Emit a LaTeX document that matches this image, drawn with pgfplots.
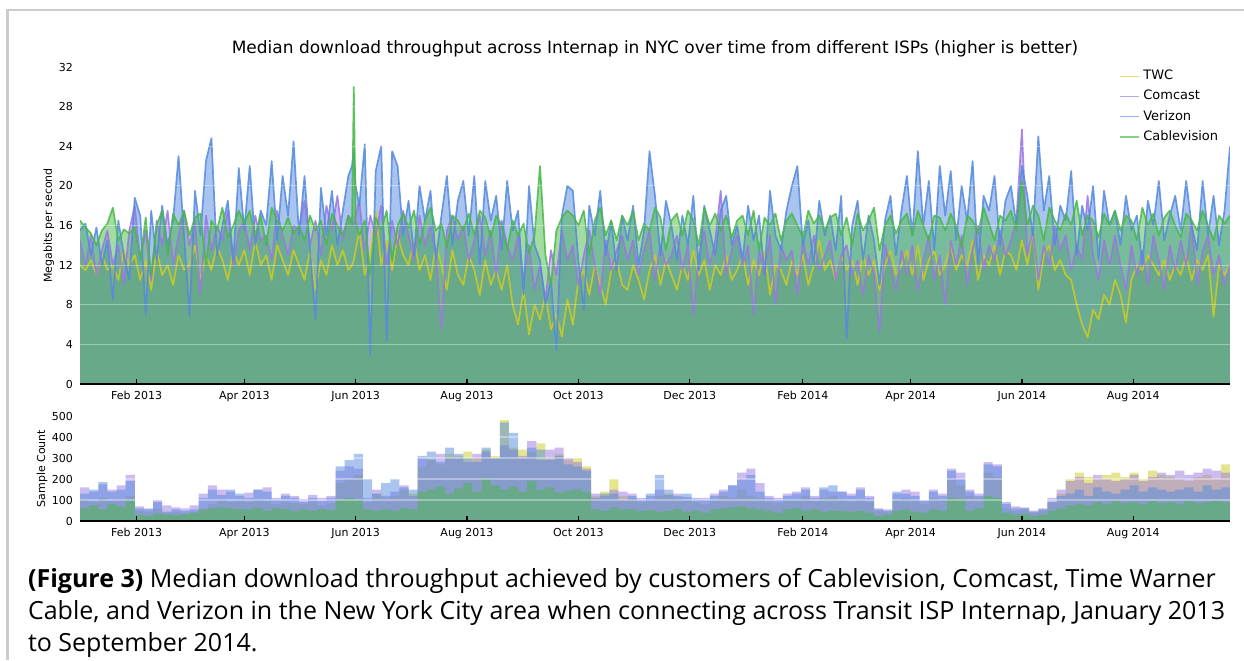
\documentclass[border=0pt]{standalone}
\usepackage{pgfplots}
\usepackage{pgfplotstable}
\pgfplotsset{compat=1.18}
\usepackage{fontspec}
\setmainfont{DejaVu Sans}
\newfontfamily\capfont{Open Sans}

\definecolor{twc}{RGB}{204,204,34}
\definecolor{comcast}{RGB}{153,120,226}
\definecolor{verizon}{RGB}{84,138,222}
\definecolor{cable}{RGB}{72,184,72}
\definecolor{framegray}{RGB}{204,204,204}

\pgfplotstableread{
day twc comcast verizon cable
0 12.0 14.5 15.5 16.5
3 11.5 12.0 16.2 15.8
6 12.5 15.0 13.0 15.2
9 11.0 11.0 15.8 14.0
12 13.0 13.5 12.0 15.5
15 11.5 15.5 14.5 16.2
18 12.0 12.0 8.5 17.8
21 10.5 14.0 16.5 14.5
24 13.5 10.0 13.0 15.6
27 12.0 15.5 10.5 15.2
30 13.0 18.0 18.8 15.8
33 10.5 12.5 17.0 12.5
36 12.5 15.5 7.0 16.8
39 9.5 10.5 17.5 11.0
42 13.5 16.5 12.5 16.0
45 11.0 14.0 18.0 17.5
48 12.0 17.5 14.0 13.0
51 10.0 12.0 16.5 17.2
54 13.0 15.0 23.0 16.0
57 11.5 17.5 15.0 17.5
60 12.0 14.0 6.8 15.0
63 14.0 16.5 19.5 16.8
66 10.5 9.0 15.0 17.2
69 13.0 17.0 22.5 12.0
72 11.5 13.5 24.8 16.5
75 14.0 16.0 13.0 15.5
78 12.5 14.5 16.0 17.8
81 10.5 17.5 18.5 14.8
84 13.5 12.0 12.5 16.0
87 12.0 15.5 21.8 17.5
90 13.5 16.5 15.5 16.2
93 11.0 13.5 22.0 17.5
96 14.5 17.0 14.0 15.0
99 12.0 14.5 17.5 17.0
102 13.0 15.0 16.0 14.0
105 10.5 12.5 22.5 17.8
108 14.0 17.5 14.5 16.5
111 12.5 15.0 21.0 15.5
114 11.0 13.0 17.0 16.8
117 13.5 16.0 24.5 15.2
120 12.0 15.5 15.0 16.0
123 10.5 18.5 21.0 14.5
126 13.5 14.0 13.5 17.0
129 9.5 16.5 6.5 15.5
132 12.5 13.0 19.8 16.5
135 11.0 18.0 15.0 14.0
138 14.0 15.5 19.5 17.2
141 12.0 19.0 14.0 16.0
144 13.5 14.5 17.5 15.0
147 11.5 17.0 21.0 17.0
149 12.0 16.5 22.0 16.0
150 12.5 16.0 23.5 30.0
151 13.5 17.0 20.0 16.5
153 15.5 18.5 18.0 15.0
156 11.0 13.5 24.2 16.5
159 13.0 17.0 2.9 11.0
162 17.5 15.0 21.5 16.8
165 12.0 18.0 24.0 15.5
168 14.5 12.0 4.3 17.5
171 11.5 16.5 23.5 12.5
174 15.0 14.0 22.0 16.0
177 13.0 17.5 15.0 17.2
180 12.0 15.0 18.5 15.8
183 14.5 12.5 13.0 17.5
186 11.5 17.0 20.0 14.0
189 13.0 14.0 16.5 16.5
192 10.5 16.0 19.5 17.8
195 14.0 13.0 12.5 15.5
198 12.0 5.5 17.0 16.2
201 9.5 15.5 21.0 13.8
204 13.5 17.0 14.0 17.0
207 11.0 14.5 18.5 16.5
210 10.0 16.0 20.5 15.5
213 13.0 12.5 15.0 17.2
216 11.5 14.5 21.0 15.0
219 9.0 17.0 12.0 17.5
222 12.5 13.0 20.5 16.8
225 10.0 15.5 16.5 14.8
228 11.5 11.0 19.0 17.0
231 9.5 16.5 13.5 16.0
234 12.0 14.0 20.5 13.5
237 8.0 12.5 15.5 16.5
240 6.0 15.0 17.5 15.0
243 9.5 10.5 9.0 16.2
246 5.0 14.0 20.0 13.2
249 8.0 9.5 14.0 15.0
252 6.5 12.0 12.5 22.0
255 9.0 8.5 8.0 13.0
258 5.5 13.5 10.5 10.0
261 7.0 11.0 3.4 15.5
264 4.8 15.5 17.0 16.8
267 8.5 12.5 20.0 17.5
270 6.0 14.0 19.5 17.0
273 10.5 10.0 12.5 16.0
276 11.5 13.0 7.5 17.5
279 9.0 15.5 18.0 13.0
282 12.0 12.0 15.0 16.5
285 10.0 9.0 19.5 17.8
288 8.0 14.5 13.0 15.0
291 11.5 11.5 16.5 16.5
294 12.5 13.5 11.5 14.5
297 10.0 15.0 17.0 17.0
300 9.5 12.5 14.5 16.0
303 12.0 14.5 18.0 17.5
306 10.5 11.0 12.0 14.5
309 8.5 13.5 15.5 16.2
312 11.5 15.5 23.5 15.5
315 13.0 10.5 19.0 17.8
318 10.0 14.0 13.0 16.8
321 12.5 12.0 18.5 13.5
324 11.0 13.0 16.0 16.5
327 9.5 15.0 12.5 17.2
330 12.0 11.5 17.0 15.0
333 10.5 14.0 14.0 17.5
336 13.5 7.0 19.0 16.5
339 11.0 13.0 11.5 14.0
342 12.5 15.5 18.0 17.8
345 9.5 12.0 15.5 16.0
348 12.0 14.5 13.0 17.2
351 11.0 19.5 17.5 15.5
354 13.0 11.0 19.0 17.0
357 10.5 13.5 14.0 14.8
360 11.5 15.0 16.0 16.5
363 13.0 12.0 12.5 17.0
366 10.0 14.0 18.0 15.0
369 12.5 7.0 14.5 17.5
372 11.0 13.5 17.0 13.5
375 13.5 11.0 11.0 16.8
378 9.0 15.0 19.5 16.0
381 12.0 8.0 15.0 17.2
384 11.5 14.0 13.5 14.5
387 10.0 12.5 17.5 16.5
390 12.5 13.5 20.0 17.2
393 11.0 9.0 22.0 16.0
396 13.0 14.5 14.0 14.8
399 10.0 12.0 16.5 17.5
402 12.0 15.0 12.0 16.2
405 14.5 11.5 18.5 17.0
408 11.5 13.0 15.0 15.5
411 12.5 14.5 17.0 16.8
414 10.5 10.5 13.5 17.2
417 13.0 13.0 19.0 15.0
420 11.5 14.0 4.6 16.8
423 12.5 11.0 16.0 14.0
426 10.0 12.5 18.5 17.2
429 13.0 9.0 12.5 15.5
432 11.0 13.0 17.0 16.5
435 12.5 11.0 14.5 17.8
438 9.5 5.3 10.0 13.5
441 12.0 14.0 16.5 16.0
444 13.5 12.0 19.0 17.0
447 11.0 9.5 13.0 15.2
450 12.0 13.5 17.5 16.5
453 13.5 11.0 21.0 17.2
456 11.0 14.0 15.0 15.0
459 14.0 9.5 23.5 17.5
462 10.5 12.5 16.0 16.0
465 12.5 15.0 20.5 14.5
468 13.5 10.5 13.5 17.0
471 11.0 13.0 22.0 16.8
474 12.0 8.0 17.0 15.5
477 14.0 14.5 21.5 17.2
480 11.5 12.0 14.5 16.0
483 13.0 15.0 20.0 13.8
486 12.0 10.0 16.5 17.0
489 14.5 13.5 22.5 16.5
492 10.5 16.0 12.0 15.2
495 13.0 11.5 19.0 17.8
498 12.0 14.0 17.5 16.2
501 14.0 12.5 21.0 14.5
504 11.0 15.5 14.0 17.0
507 13.5 13.0 18.5 16.5
510 13.0 14.5 20.0 17.5
513 11.5 16.5 16.0 15.5
516 14.5 25.7 22.0 20.5
519 12.0 13.0 19.0 16.0
522 15.5 15.5 15.0 18.0
525 9.5 10.5 25.0 17.0
528 13.0 14.0 17.5 14.5
531 14.0 12.0 21.0 17.8
534 11.5 16.0 14.0 16.5
537 12.5 13.5 18.0 15.5
540 11.0 15.0 16.5 17.2
543 10.5 11.5 21.5 16.0
546 8.0 14.0 13.0 18.5
549 6.0 12.5 18.0 15.0
552 4.7 19.0 15.5 17.0
555 7.5 13.0 20.0 16.5
558 6.5 10.5 12.5 14.8
561 9.0 14.5 19.5 17.2
564 8.0 12.0 16.0 16.0
567 10.5 15.0 17.5 17.5
570 9.0 12.0 14.0 15.5
573 6.2 9.5 19.0 17.0
576 10.5 14.0 15.5 16.5
579 12.0 11.0 17.0 14.5
582 11.5 13.5 12.0 17.8
585 13.0 10.0 18.5 16.0
588 12.0 15.0 16.0 17.2
591 11.0 12.5 20.5 15.0
594 12.5 9.5 14.5 16.8
597 10.5 14.0 17.0 17.5
600 12.0 11.5 19.0 16.0
603 11.0 14.5 15.5 14.8
606 13.0 12.0 20.5 17.2
609 10.5 16.5 16.0 16.5
612 12.5 10.0 13.5 15.5
615 11.5 13.5 20.5 17.5
618 13.0 15.0 15.0 16.0
621 6.8 11.0 19.0 14.5
624 12.0 13.0 14.0 17.0
627 11.0 10.0 17.5 16.2
630 12.0 12.0 24.0 17.0
}\topdata

\pgfplotstableread{
day twc comcast verizon cable
0 100 160 130 60
5 90 140 150 75
10 110 175 185 55
15 95 150 140 80
20 100 170 150 70
25 120 220 190 95
30 50 70 60 30
35 45 60 55 25
40 60 100 90 35
45 40 75 45 30
50 45 65 55 28
55 40 60 50 32
60 45 75 55 40
65 60 130 110 55
70 80 170 150 60
75 100 150 125 65
80 90 140 150 60
85 95 120 130 58
90 90 135 110 55
95 100 150 150 62
100 95 160 140 50
105 80 110 100 60
110 90 130 120 55
115 85 120 110 48
120 80 105 90 55
125 90 125 110 50
130 75 110 95 58
135 85 120 110 52
140 180 240 260 100
145 200 260 290 110
150 220 250 320 100
155 90 110 200 55
160 130 150 130 50
165 110 120 180 55
170 120 140 200 50
175 150 170 160 60
180 130 120 150 55
185 260 300 310 140
190 300 290 330 150
195 270 320 280 165
200 320 300 350 130
205 310 300 320 155
210 330 280 300 180
215 300 320 280 140
220 340 330 350 200
225 310 300 300 170
230 480 360 470 150
235 350 340 420 165
240 340 310 300 140
245 330 380 350 190
250 370 290 340 150
255 300 340 290 160
260 320 350 310 135
265 290 300 270 145
270 300 280 260 150
275 260 250 240 140
280 120 130 110 55
285 140 120 130 50
290 200 150 130 65
295 120 140 100 55
300 110 130 120 55
305 90 110 100 48
310 100 120 130 52
315 120 150 220 45
320 130 125 150 50
325 110 130 120 58
330 100 115 130 45
335 90 100 110 50
340 80 110 100 40
345 100 130 120 55
350 120 150 140 60
355 110 170 170 65
360 150 230 200 70
365 120 250 220 60
370 110 180 140 55
375 90 120 110 50
380 85 110 100 40
385 100 130 120 55
390 100 140 130 60
395 120 160 150 50
400 95 120 110 55
405 110 150 160 45
410 120 140 170 50
415 100 140 140 48
420 90 130 120 45
425 100 160 150 50
430 90 120 110 40
435 50 60 55 25
440 45 55 50 30
445 100 130 140 50
450 110 150 130 55
455 100 140 120 45
460 80 100 95 40
465 110 150 140 55
470 100 130 120 50
475 200 250 240 110
480 170 230 200 105
485 120 150 140 50
490 110 130 120 60
495 230 280 270 120
500 210 270 260 110
505 60 90 80 40
510 50 70 60 30
515 55 65 60 35
520 40 50 45 25
525 50 60 55 30
530 90 110 90 50
535 130 150 120 60
540 200 190 130 75
545 230 210 150 80
550 210 180 120 75
555 200 220 160 90
560 220 200 140 80
565 230 190 130 95
570 210 200 150 85
575 230 220 170 90
580 200 190 140 80
585 240 210 160 95
590 220 230 150 85
595 210 220 140 90
600 200 240 150 80
605 190 220 160 95
610 210 230 140 85
615 220 250 170 90
620 200 240 150 95
625 270 230 160 90
630 200 220 150 90
}\countdata

\pgfplotsset{
  common/.style={
    scale only axis,
    width=575pt,
    xmin=0, xmax=630,
    axis lines*=left,
    y axis line style={draw=none},
    x axis line style={black, line width=0.7pt},
    tick align=inside,
    xtick={31,90,151,212,273,334,396,455,516,577},
    xticklabels={Feb 2013,Apr 2013,Jun 2013,Aug 2013,Oct 2013,Dec 2013,Feb 2014,Apr 2014,Jun 2014,Aug 2014},
    xtick style={black, line width=0.6pt},
    major tick length=2.5pt,
    ytick style={draw=none},
    ymajorgrids,
    major grid style={white, opacity=0.35, line width=0.6pt},
    axis on top,
    tick label style={font=\fontsize{5.5}{6.5}\selectfont},
    label style={font=\fontsize{5.5}{6.5}\selectfont},
    /pgf/number format/assume math mode=true,
    scaled y ticks=false,
    clip=true,
  },
}

\begin{document}
\begin{tikzpicture}
\path[use as bounding box] (0,0) rectangle (622pt,330pt);
\draw[framegray, line width=1.25pt] (3.75pt,0) -- (3.75pt,325pt) -- (622pt,325pt);

\node[anchor=base, font=\fontsize{8.5}{10}\selectfont] at (327.5pt,303.2pt)
  {Median download throughput across Internap in NYC over time from different ISPs (higher is better)};

\begin{axis}[common,
  at={(40pt,138pt)}, anchor=south west,
  height=158.5pt,
  ymin=0, ymax=32,
  ytick={0,4,...,32},
  ylabel={Megabits per second},
  ylabel style={at={(axis description cs:-0.027,0.5)}, anchor=center},
  legend style={at={(0.9935,1.004)}, anchor=north east, draw=none, fill=none,
    font=\fontsize{6.5}{7.5}\selectfont, row sep=-0.3pt, inner sep=0pt,
    cells={anchor=west}},
  legend image code/.code={\draw[#1] (0pt,0pt) -- (9.5pt,0pt);},
]
\addlegendimage{twc, line width=0.8pt, opacity=0.65}
\addlegendentry{TWC}
\addlegendimage{comcast, line width=0.8pt, opacity=0.65}
\addlegendentry{Comcast}
\addlegendimage{verizon, line width=0.8pt, opacity=0.65}
\addlegendentry{Verizon}
\addlegendimage{cable, line width=0.8pt, opacity=0.65}
\addlegendentry{Cablevision}
\addplot[fill=twc, fill opacity=0.5, draw=none, forget plot] table[x=day,y=twc]{\topdata} \closedcycle;
\addplot[fill=comcast, fill opacity=0.5, draw=none, forget plot] table[x=day,y=comcast]{\topdata} \closedcycle;
\addplot[fill=verizon, fill opacity=0.5, draw=none, forget plot] table[x=day,y=verizon]{\topdata} \closedcycle;
\addplot[fill=cable, fill opacity=0.5, draw=none, forget plot] table[x=day,y=cable]{\topdata} \closedcycle;
\addplot[twc, line width=0.85pt, draw opacity=0.85, line join=round, forget plot] table[x=day,y=twc]{\topdata};
\addplot[comcast, line width=0.85pt, draw opacity=0.85, line join=round, forget plot] table[x=day,y=comcast]{\topdata};
\addplot[verizon, line width=0.85pt, draw opacity=0.85, line join=round, forget plot] table[x=day,y=verizon]{\topdata};
\addplot[cable, line width=0.85pt, draw opacity=0.85, line join=round, forget plot] table[x=day,y=cable]{\topdata};
\end{axis}

\begin{axis}[common,
  at={(40pt,69.5pt)}, anchor=south west,
  height=52.5pt,
  ymin=0, ymax=500,
  ytick={0,100,...,500},
  ylabel={Sample Count},
  ylabel style={at={(axis description cs:-0.033,0.5)}, anchor=center},
]
\addplot[const plot mark left, fill=twc, fill opacity=0.5, draw=none] table[x=day,y=twc]{\countdata} \closedcycle;
\addplot[const plot mark left, fill=comcast, fill opacity=0.5, draw=none] table[x=day,y=comcast]{\countdata} \closedcycle;
\addplot[const plot mark left, fill=verizon, fill opacity=0.5, draw=none] table[x=day,y=verizon]{\countdata} \closedcycle;
\addplot[const plot mark left, fill=cable, fill opacity=0.5, draw=none] table[x=day,y=cable]{\countdata} \closedcycle;
\end{axis}

\node[anchor=base west, font=\capfont\fontsize{12.5}{14}\selectfont] at (10.5pt,36.5pt)
  {\textbf{(Figure 3)} Median download throughput achieved by customers of Cablevision, Comcast, Time Warner};
\node[anchor=base west, font=\capfont\fontsize{12.5}{14}\selectfont] at (10.5pt,20.5pt)
  {Cable, and Verizon in the New York City area when connecting across Transit ISP Internap, January 2013};
\node[anchor=base west, font=\capfont\fontsize{12.5}{14}\selectfont] at (10.5pt,4.5pt)
  {to September 2014.};
\end{tikzpicture}
\end{document}
